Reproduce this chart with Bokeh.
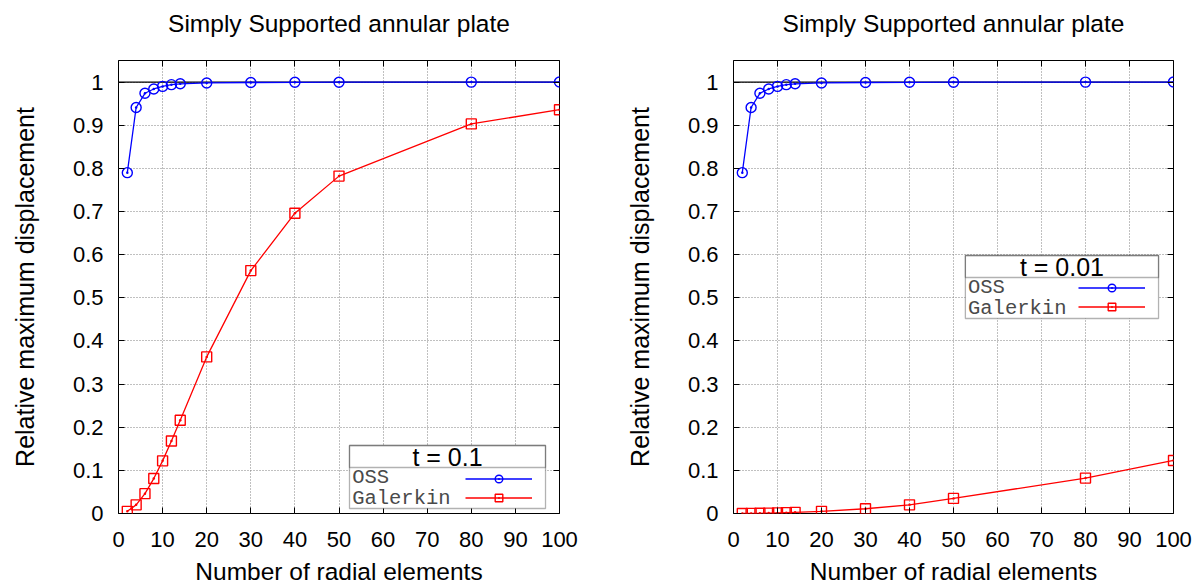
from bokeh.plotting import figure
from bokeh.models import (Range1d, FixedTicker, CustomJSTickFormatter, LinearAxis,
                          Span, BoxAnnotation, Label, Legend, LegendItem)
from bokeh.layouts import row
from bokeh.embed import file_html
from bokeh.resources import INLINE

# ---------------- data ----------------
n_elements = [2, 4, 6, 8, 10, 12, 14, 20, 30, 40, 50, 80, 100]

oss_t01 = [0.790, 0.941, 0.974, 0.984, 0.990, 0.994, 0.996, 0.998, 0.999, 0.9995, 0.9997, 0.9999, 1.0]
gal_t01 = [0.005, 0.020, 0.046, 0.081, 0.122, 0.168, 0.216, 0.363, 0.563, 0.696, 0.782, 0.903, 0.936]

oss_t001 = [0.790, 0.941, 0.974, 0.984, 0.990, 0.994, 0.996, 0.998, 0.999, 0.9995, 0.9997, 0.9999, 1.0]
gal_t001 = [0.00005, 0.0002, 0.0005, 0.0009, 0.0014, 0.002, 0.0027, 0.005, 0.011, 0.020, 0.035, 0.082, 0.123]

exact_value = 1.0

x_ticks = [0, 10, 20, 30, 40, 50, 60, 70, 80, 90, 100]
y_ticks = [0, 0.1, 0.2, 0.3, 0.4, 0.5, 0.6, 0.7, 0.8, 0.9, 1.0]

title_text = "Simply Supported annular plate"
x_label = "Number of radial elements"
y_label = "Relative maximum displacement"
legend_titles = ["t = 0.1", "t = 0.01"]
series_names = ["OSS", "Galerkin"]

BLUE = "#0000ff"
RED = "#ff0000"
SANS = "Liberation Sans"
MONO = "Liberation Mono"


def make_plot(oss, gal, leg_title, left_border, right_border, box, leg_loc):
    p = figure(width=600, height=587, output_backend="svg", toolbar_location=None,
               title=None,
               x_range=Range1d(0, 100), y_range=Range1d(0, 1.05),
               min_border_left=left_border, min_border_right=right_border,
               min_border_top=60, min_border_bottom=74)

    p.outline_line_color = "black"
    p.outline_line_width = 1
    p.outline_line_alpha = 1

    fmt = CustomJSTickFormatter(code="return String(Math.round(tick*10)/10)")
    blank = CustomJSTickFormatter(code="return ''")

    xa = p.xaxis[0]
    xa.ticker = FixedTicker(ticks=x_ticks)
    xa.axis_label = x_label
    ya = p.yaxis[0]
    ya.ticker = FixedTicker(ticks=y_ticks)
    ya.formatter = fmt
    ya.axis_label = y_label

    # top axis: mirror ticks, and it carries the plot title centred over the frame
    top = LinearAxis(ticker=FixedTicker(ticks=x_ticks), formatter=blank,
                     axis_label=title_text, axis_label_standoff=24,
                     major_label_standoff=0)
    right = LinearAxis(ticker=FixedTicker(ticks=y_ticks), formatter=blank,
                       major_label_standoff=0)
    p.add_layout(top, "above")
    p.add_layout(right, "right")

    for ax in (xa, ya, top, right):
        ax.axis_line_color = None
        ax.major_tick_in = 6
        ax.major_tick_out = 0
        ax.major_tick_line_color = "black"
        ax.minor_tick_line_color = None
        ax.major_label_text_font = SANS
        ax.major_label_text_font_size = "22px"
        ax.major_label_text_color = "black"
        ax.axis_label_text_font = SANS
        ax.axis_label_text_font_style = "normal"
        ax.axis_label_text_color = "black"
    top.axis_label_text_font_size = "24.5px"
    top.axis_label_text_line_height = 1.0
    xa.axis_label_text_font_size = "24.5px"
    ya.axis_label_text_font_size = "25px"
    xa.major_label_standoff = 18
    xa.axis_label_standoff = 8
    xa.major_label_text_line_height = 1.0
    xa.axis_label_text_line_height = 1.0
    ya.major_label_standoff = 15
    ya.axis_label_standoff = 31

    p.xgrid.ticker = FixedTicker(ticks=x_ticks)
    p.ygrid.ticker = FixedTicker(ticks=y_ticks)
    for g in (p.xgrid[0], p.ygrid[0]):
        g.grid_line_color = "#808080"
        g.grid_line_dash = "1 2"
        g.grid_line_width = 1

    exact = Span(location=exact_value, dimension="width", line_color="black",
                 line_width=1.3, level="underlay")
    p.add_layout(exact)

    l1 = p.line(n_elements, oss, line_color=BLUE, line_width=1.3)
    s1 = p.scatter(n_elements, oss, marker="circle_dot", size=10, line_color=BLUE,
                   fill_color=None, line_width=1.4)
    l2 = p.line(n_elements, gal, line_color=RED, line_width=1.3)
    s2 = p.scatter(n_elements, gal, marker="square_dot", size=10, line_color=RED,
                   fill_color=None, line_width=1.4)

    # legend frame
    bx0, bx1, by0, by1, bsep = box
    p.add_layout(BoxAnnotation(left=bx0, right=bx1, bottom=by0, top=by1,
                               fill_color="white", fill_alpha=1,
                               line_color="black", line_width=1.3))
    p.add_layout(BoxAnnotation(left=bx0, right=bx1, bottom=bsep, top=by1,
                               fill_alpha=0, line_color="black", line_width=1.3))
    p.add_layout(Label(x=(bx0 + bx1) / 2, y=(bsep + by1) / 2, text=leg_title,
                       text_align="center", text_baseline="middle",
                       text_font=SANS, text_font_size="25px", text_color="black"))
    row_h = (bsep - by0) / 2
    for i, name in enumerate(series_names):
        p.add_layout(Label(x=bx0 + 0.6, y=bsep - row_h * (i + 0.5), text=name,
                           text_align="left", text_baseline="middle",
                           text_font=MONO, text_font_size="20.5px", text_color="#4a4a4a"))

    leg = Legend(items=[LegendItem(label="", renderers=[l1, s1]),
                        LegendItem(label="", renderers=[l2, s2])],
                 location=leg_loc, orientation="vertical",
                 padding=0, margin=0, spacing=0, label_standoff=0,
                 glyph_width=67, glyph_height=19, label_height=19, label_width=0,
                 border_line_color=None, background_fill_alpha=0)
    p.add_layout(leg, "center")
    return p


p1 = make_plot(oss_t01, gal_t01, legend_titles[0], 118, 41,
               (52.38, 96.83, 0.0116, 0.1576, 0.1066), (347, 6.5))
p2 = make_plot(oss_t001, gal_t001, legend_titles[1], 133, 27,
               (52.7, 96.6, 0.452, 0.598, 0.547), (345, 197.5))

layout = row(p1, p2)
open("out.html", "w").write(file_html(layout, INLINE))
